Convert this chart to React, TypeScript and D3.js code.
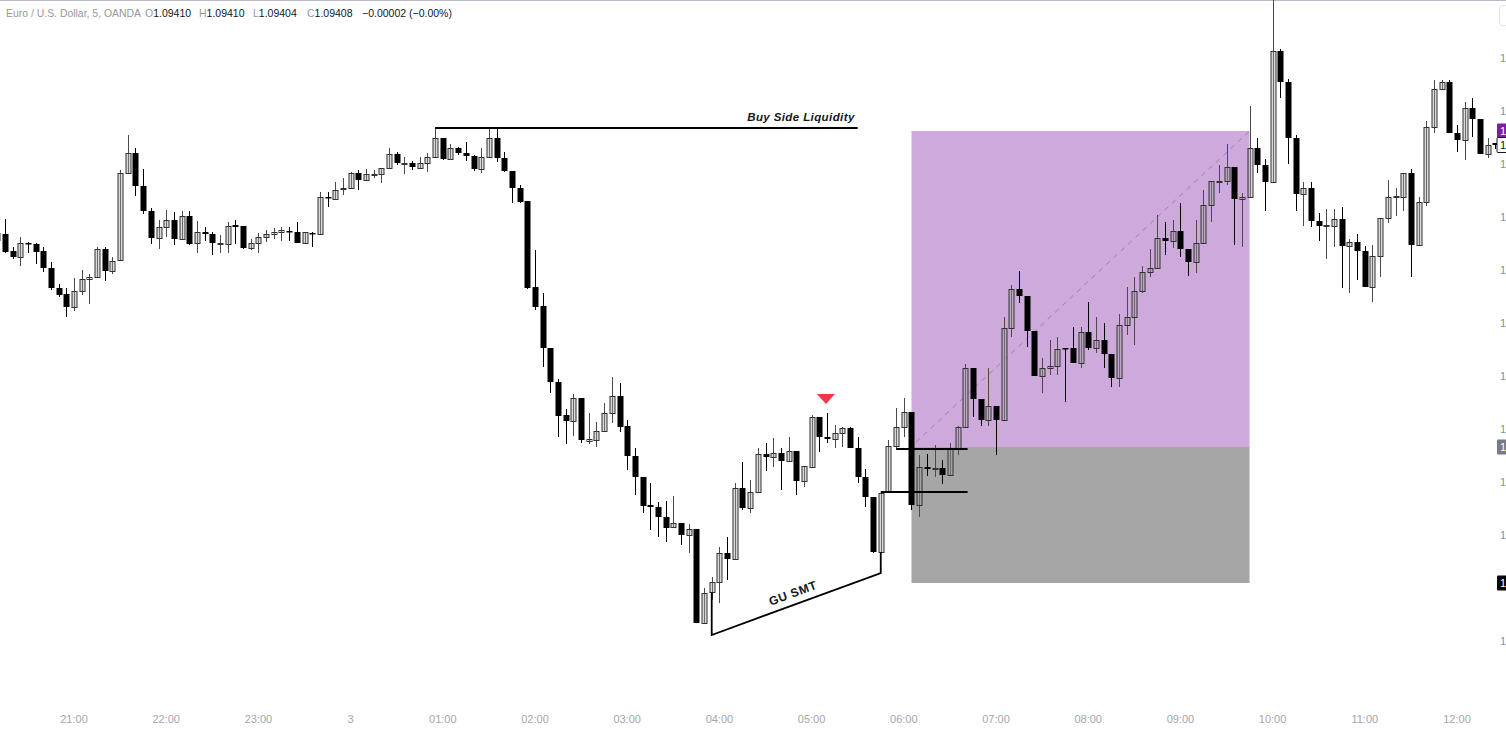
import React from 'react';
import * as d3 from 'd3';

// ---------- data (EUR/USD 5m, OANDA) ----------
const open = [
1.09313,1.09319,1.09302,1.09296,1.09310,1.09309,1.09302,1.09285,1.09265,1.09259,
1.09246,1.09262,1.09274,1.09276,1.09304,1.09282,1.09293,1.09380,1.09400,1.09367,
1.09342,1.09315,1.09326,1.09333,1.09314,1.09337,1.09310,1.09321,1.09319,1.09309,
1.09309,1.09328,1.09327,1.09305,1.09310,1.09316,1.09319,1.09321,1.09322,1.09321,
1.09310,1.09320,1.09319,1.09356,1.09354,1.09364,1.09365,1.09380,1.09373,1.09378,
1.09379,1.09385,1.09399,1.09389,1.09390,1.09385,1.09390,1.09396,1.09415,1.09394,
1.09405,1.09400,1.09397,1.09384,1.09396,1.09415,1.09395,1.09382,1.09365,1.09352,
1.09266,1.09247,1.09205,1.09171,1.09138,1.09132,1.09155,1.09112,1.09113,1.09122,
1.09140,1.09157,1.09127,1.09097,1.09076,1.09048,1.09046,1.09036,1.09026,1.09030,
1.09018,1.09024,1.08930,1.08961,1.08971,1.09000,1.08994,1.09065,1.09045,1.09061,
1.09099,1.09096,1.09100,1.09092,1.09102,1.09072,1.09086,1.09136,1.09116,1.09114,
1.09120,1.09125,1.09105,1.09076,1.09056,1.09001,1.09061,1.09107,1.09126,1.09141,
1.09048,1.09086,1.09084,1.09085,1.09078,1.09104,1.09126,1.09185,1.09154,1.09133,
1.09147,1.09133,1.09225,1.09264,1.09257,1.09222,1.09177,1.09185,1.09187,1.09205,
1.09205,1.09190,1.09221,1.09205,1.09213,1.09199,1.09175,1.09228,1.09236,1.09262,
1.09281,1.09285,1.09315,1.09312,1.09322,1.09304,1.09291,1.09310,1.09348,1.09371,
1.09372,1.09386,1.09354,1.09356,1.09405,1.09388,1.09371,1.09502,1.09471,1.09415,
1.09359,1.09365,1.09332,1.09327,1.09327,1.09334,1.09307,1.09311,1.09302,1.09266,
1.09297,1.09335,1.09356,1.09356,1.09380,1.09308,1.09351,1.09426,1.09464,1.09471,
1.09420,1.09413,1.09445,1.09434,1.09399,1.09410,
];
const high = [
1.09323,1.09334,1.09306,1.09316,1.09311,1.09310,1.09306,1.09291,1.09269,1.09265,
1.09275,1.09283,1.09279,1.09306,1.09306,1.09296,1.09383,1.09418,1.09405,1.09384,
1.09345,1.09333,1.09343,1.09341,1.09342,1.09342,1.09332,1.09326,1.09321,1.09318,
1.09331,1.09333,1.09327,1.09314,1.09320,1.09323,1.09325,1.09326,1.09326,1.09331,
1.09321,1.09321,1.09361,1.09361,1.09371,1.09375,1.09381,1.09383,1.09384,1.09383,
1.09385,1.09405,1.09401,1.09396,1.09392,1.09396,1.09400,1.09425,1.09415,1.09409,
1.09406,1.09411,1.09398,1.09405,1.09425,1.09425,1.09401,1.09382,1.09368,1.09352,
1.09303,1.09260,1.09205,1.09174,1.09144,1.09159,1.09155,1.09140,1.09131,1.09150,
1.09176,1.09170,1.09133,1.09105,1.09076,1.09070,1.09051,1.09052,1.09057,1.09030,
1.09029,1.09024,1.08965,1.08976,1.09006,1.09016,1.09070,1.09091,1.09073,1.09105,
1.09110,1.09115,1.09105,1.09116,1.09102,1.09087,1.09138,1.09136,1.09140,1.09128,
1.09126,1.09126,1.09116,1.09084,1.09056,1.09060,1.09113,1.09145,1.09155,1.09141,
1.09098,1.09099,1.09108,1.09093,1.09110,1.09127,1.09189,1.09185,1.09154,1.09185,
1.09147,1.09236,1.09268,1.09282,1.09257,1.09222,1.09195,1.09213,1.09216,1.09205,
1.09226,1.09226,1.09251,1.09236,1.09230,1.09199,1.09239,1.09266,1.09276,1.09287,
1.09304,1.09338,1.09331,1.09333,1.09350,1.09304,1.09333,1.09363,1.09372,1.09388,
1.09409,1.09386,1.09360,1.09447,1.09415,1.09394,1.09563,1.09504,1.09474,1.09418,
1.09371,1.09371,1.09340,1.09344,1.09344,1.09346,1.09314,1.09319,1.09307,1.09308,
1.09335,1.09373,1.09365,1.09380,1.09384,1.09356,1.09432,1.09473,1.09473,1.09473,
1.09428,1.09451,1.09455,1.09434,1.09415,1.09410,
];
const low = [
1.09311,1.09300,1.09294,1.09287,1.09300,1.09289,1.09281,1.09263,1.09256,1.09236,
1.09242,1.09258,1.09249,1.09276,1.09272,1.09279,1.09293,1.09380,1.09357,1.09339,
1.09309,1.09304,1.09316,1.09308,1.09314,1.09308,1.09300,1.09312,1.09298,1.09300,
1.09300,1.09309,1.09304,1.09303,1.09300,1.09311,1.09314,1.09312,1.09312,1.09310,
1.09310,1.09306,1.09319,1.09346,1.09353,1.09358,1.09365,1.09363,1.09373,1.09375,
1.09370,1.09385,1.09388,1.09379,1.09383,1.09385,1.09381,1.09396,1.09393,1.09393,
1.09398,1.09392,1.09382,1.09380,1.09396,1.09391,1.09381,1.09350,1.09350,1.09264,
1.09243,1.09186,1.09160,1.09116,1.09109,1.09117,1.09110,1.09109,1.09106,1.09122,
1.09130,1.09121,1.09083,1.09058,1.09040,1.09023,1.09016,1.09011,1.09025,1.09008,
1.09000,1.08930,1.08930,1.08953,1.08950,1.08973,1.08994,1.09043,1.09040,1.09061,
1.09082,1.09086,1.09063,1.09091,1.09058,1.09066,1.09086,1.09101,1.09110,1.09105,
1.09106,1.09105,1.09070,1.09046,1.09000,1.09001,1.09061,1.09105,1.09116,1.09043,
1.09036,1.09077,1.09076,1.09069,1.09078,1.09098,1.09126,1.09136,1.09127,1.09127,
1.09098,1.09132,1.09216,1.09250,1.09206,1.09177,1.09160,1.09178,1.09178,1.09151,
1.09190,1.09185,1.09203,1.09200,1.09185,1.09166,1.09166,1.09218,1.09208,1.09260,
1.09276,1.09285,1.09298,1.09305,1.09296,1.09277,1.09280,1.09310,1.09331,1.09360,
1.09368,1.09308,1.09306,1.09356,1.09380,1.09342,1.09371,1.09455,1.09389,1.09342,
1.09327,1.09326,1.09312,1.09294,1.09306,1.09265,1.09260,1.09273,1.09266,1.09251,
1.09276,1.09330,1.09337,1.09342,1.09276,1.09308,1.09347,1.09420,1.09464,1.09420,
1.09401,1.09393,1.09416,1.09399,1.09395,1.09404,
];
const close = [
1.09320,1.09301,1.09296,1.09310,1.09309,1.09301,1.09285,1.09265,1.09258,1.09246,
1.09262,1.09274,1.09276,1.09304,1.09282,1.09292,1.09380,1.09400,1.09367,1.09342,
1.09315,1.09326,1.09333,1.09314,1.09337,1.09309,1.09321,1.09319,1.09310,1.09310,
1.09327,1.09326,1.09305,1.09310,1.09316,1.09319,1.09321,1.09323,1.09321,1.09310,
1.09321,1.09319,1.09356,1.09355,1.09363,1.09365,1.09380,1.09373,1.09379,1.09379,
1.09385,1.09399,1.09390,1.09390,1.09386,1.09390,1.09396,1.09415,1.09394,1.09405,
1.09400,1.09397,1.09384,1.09396,1.09415,1.09395,1.09382,1.09365,1.09351,1.09265,
1.09246,1.09205,1.09171,1.09137,1.09132,1.09155,1.09113,1.09114,1.09122,1.09140,
1.09157,1.09126,1.09097,1.09076,1.09047,1.09046,1.09036,1.09025,1.09030,1.09018,
1.09024,1.08930,1.08960,1.08971,1.09000,1.08994,1.09065,1.09045,1.09061,1.09099,
1.09096,1.09100,1.09092,1.09102,1.09072,1.09087,1.09136,1.09116,1.09114,1.09120,
1.09125,1.09105,1.09076,1.09056,1.09001,1.09060,1.09107,1.09126,1.09141,1.09048,
1.09086,1.09084,1.09085,1.09078,1.09104,1.09126,1.09185,1.09154,1.09133,1.09147,
1.09133,1.09225,1.09264,1.09257,1.09222,1.09177,1.09185,1.09187,1.09204,1.09204,
1.09190,1.09221,1.09205,1.09213,1.09199,1.09175,1.09228,1.09236,1.09262,1.09281,
1.09285,1.09315,1.09312,1.09322,1.09304,1.09291,1.09310,1.09348,1.09372,1.09372,
1.09386,1.09354,1.09356,1.09405,1.09388,1.09371,1.09502,1.09471,1.09415,1.09359,
1.09365,1.09332,1.09327,1.09328,1.09334,1.09307,1.09311,1.09302,1.09266,1.09297,
1.09335,1.09356,1.09357,1.09380,1.09308,1.09351,1.09426,1.09464,1.09471,1.09420,
1.09413,1.09445,1.09434,1.09399,1.09408,1.09408,
];

const timeLabels = ['21:00','22:00','23:00','3','01:00','02:00','03:00','04:00','05:00','06:00','07:00','08:00','09:00','10:00','11:00','12:00'];
const priceTicks = [1.09495,1.09442,1.09389,1.09336,1.09283,1.09230,1.09177,1.09124,1.09071,1.09018,1.08965,1.08912];

// annotation levels
const bslLevel = 1.09425;
const targetLevel = 1.09422;
const entryLevel = 1.09106;
const stopLevel = 1.08970;
const lastPrice = 1.09408;
const rangeHigh = 1.09104;
const rangeLow = 1.09061;
const smtPrices = [1.08961, 1.08918, 1.08980, 1.09001];
const signalPrice = 1.09149;

const W = 1506, H = 730;
const start = new Date(2024, 0, 2, 20, 10).getTime();
const times = open.map((_, i) => new Date(start + i * 5 * 60000));
const T = (k: number, extraMin = 0) => new Date(times[k - 1].getTime() + extraMin * 60000);

const x = d3.scaleTime().domain([new Date(2024, 0, 2, 21, 0), new Date(2024, 0, 3, 12, 0)]).range([74, 1457]);
const y = d3.scaleLinear().domain([1.08823, 1.09553]).range([730, 0]);
const tickTimes = timeLabels.map((_, k) => new Date(2024, 0, 2, 21 + k, 0));

const FONT = "'Liberation Sans', Arial, sans-serif";

export default function App() {
  const px = (k: number, m = 0) => x(T(k, m));
  const boxL = px(120), boxR = px(164);
  const smtLine = d3.line<[Date, number]>().x(d => x(d[0])).y(d => y(d[1]));
  const smtPts: [Date, number][] = [[T(94), smtPrices[0]], [T(94), smtPrices[1]], [T(116), smtPrices[2]], [T(116), smtPrices[3]]];
  const smtMid = [(px(94) + px(116)) / 2, (y(smtPrices[1]) + y(smtPrices[2])) / 2];
  const angle = Math.atan2(y(smtPrices[2]) - y(smtPrices[1]), px(116) - px(94)) * 180 / Math.PI;
  const triX = px(109) - 1, triY = y(signalPrice);

  const boxLevels = [targetLevel, lastPrice, entryLevel, stopLevel];
  const visibleTicks = priceTicks.filter(p => boxLevels.every(b => Math.abs(y(p) - y(b)) > 9));

  const labelBox = (p: number, fill: string, txt: string, stroke?: string) => (
    <g key={p + fill}>
      <rect x={1497} y={Math.round(y(p)) - 7.5} width={14} height={15} fill={fill} stroke={stroke || 'none'} rx={1} />
      <text x={1500} y={y(p) + 4} fontSize={11} fill={txt} fontFamily={FONT}>{p.toFixed(5)}</text>
    </g>
  );

  return (
    <svg width={W} height={H} style={{ position: 'absolute', left: 0, top: 0, display: 'block' }}>
      <rect width={W} height={H} fill="#ffffff" />
      <line x1={0} x2={W} y1={0.5} y2={0.5} stroke="#b8bbc3" />

      {/* position tool boxes */}
      <rect x={boxL} y={y(targetLevel)} width={boxR - boxL} height={y(entryLevel) - y(targetLevel)} fill="rgb(206,169,219)" />
      <rect x={boxL} y={y(entryLevel)} width={boxR - boxL} height={y(stopLevel) - y(entryLevel)} fill="rgb(166,166,166)" />
      <line x1={px(120, 3)} y1={y(1.09111)} x2={boxR} y2={y(targetLevel)} stroke="#9a86a6" strokeWidth={1} strokeDasharray="5,5" />

      {/* candles */}
      <g>
        {open.map((o, i) => {
          const c = close[i], up = c >= o;
          const cx = Math.round(x(times[i]));
          return (
            <line key={'w' + i} x1={cx + 0.5} x2={cx + 0.5} y1={y(high[i])} y2={y(low[i])}
              stroke={up ? '#4a4a4a' : '#000'} strokeWidth={1} />
          );
        })}
        {open.map((o, i) => {
          const c = close[i], up = c >= o;
          const cx = Math.round(x(times[i]));
          const top = y(Math.max(o, c)), bot = y(Math.min(o, c));
          if (up) {
            return <rect key={'b' + i} x={cx - 2} y={Math.round(top) + 0.5} width={5} height={Math.max(1, Math.round(bot - top))}
              fill="rgba(160,160,160,0.4)" stroke="#333" strokeWidth={1} />;
          }
          return <rect key={'b' + i} x={cx - 2.5} y={top} width={6} height={Math.max(1.5, bot - top)} fill="#000" />;
        })}
      </g>

      {/* buy side liquidity */}
      <line x1={px(58)} x2={px(113)} y1={y(bslLevel)} y2={y(bslLevel)} stroke="#000" strokeWidth={2} />
      <text x={px(113) - 3} y={y(bslLevel) - 7} textAnchor="end" fontSize={11.5} fontStyle="italic" fontWeight={600}
        fill="#131722" fontFamily={FONT} letterSpacing={0.4}>Buy Side Liquidity</text>

      {/* signal triangle */}
      <path d={`M${triX - 9},${triY - 10}L${triX + 9},${triY - 10}L${triX},${triY}Z`} fill="#f23645" />

      {/* SMT */}
      <path d={smtLine(smtPts) || ''} fill="none" stroke="#000" strokeWidth={1.8} />
      <text x={smtMid[0] - 2} y={smtMid[1] - 7} textAnchor="middle" fontSize={12} fontWeight={600} fill="#131722" fontFamily={FONT}
        letterSpacing={0.6} transform={`rotate(${angle},${smtMid[0] - 2},${smtMid[1] - 7})`}>GU SMT</text>

      {/* range lines */}
      <line x1={px(118)} x2={px(127, 1.5)} y1={y(rangeHigh)} y2={y(rangeHigh)} stroke="#000" strokeWidth={2} />
      <line x1={px(116)} x2={px(127, 1.5)} y1={y(rangeLow)} y2={y(rangeLow)} stroke="#000" strokeWidth={2} />

      {/* price axis (clipped at window edge, as in the reference) */}
      {visibleTicks.map(p => (
        <text key={p} x={1500} y={y(p) + 4} fontSize={11} fill="#8a8e97" fontFamily={FONT}>{p.toFixed(5)}</text>
      ))}
      {labelBox(targetLevel, '#7b1fa2', '#ffffff')}
      {labelBox(lastPrice, '#ffffff', '#131722', '#131722')}
      {labelBox(entryLevel, '#787b86', '#ffffff')}
      {labelBox(stopLevel, '#000000', '#ffffff')}
      <rect x={1499.5} y={5.5} width={14} height={20} rx={3} fill="#fff" stroke="#e0e3eb" />

      {/* time axis */}
      {tickTimes.map((t, k) => (
        <text key={k} x={x(t)} y={723} textAnchor="middle" fontSize={11} fill="#a3a6af" fontFamily={FONT}>{timeLabels[k]}</text>
      ))}

      {/* header */}
      <g fontFamily={FONT} fontSize={10.5}>
        <text x={6} y={17} fill="#9598a1" textLength={135} lengthAdjust="spacingAndGlyphs">Euro / U.S. Dollar, 5, OANDA</text>
        <text x={145} y={17} fill="#9598a1">O<tspan fill="#131722">{open[open.length - 1].toFixed(5)}</tspan></text>
        <text x={199} y={17} fill="#9598a1">H<tspan fill="#131722">{high[high.length - 1].toFixed(5)}</tspan></text>
        <text x={253} y={17} fill="#9598a1">L<tspan fill="#131722">{low[low.length - 1].toFixed(5)}</tspan></text>
        <text x={307} y={17} fill="#9598a1">C<tspan fill="#131722">{close[close.length - 1].toFixed(5)}</tspan></text>
        <text x={362} y={17} fill="#131722">−0.00002 (−0.00%)</text>
      </g>
    </svg>
  );
}
